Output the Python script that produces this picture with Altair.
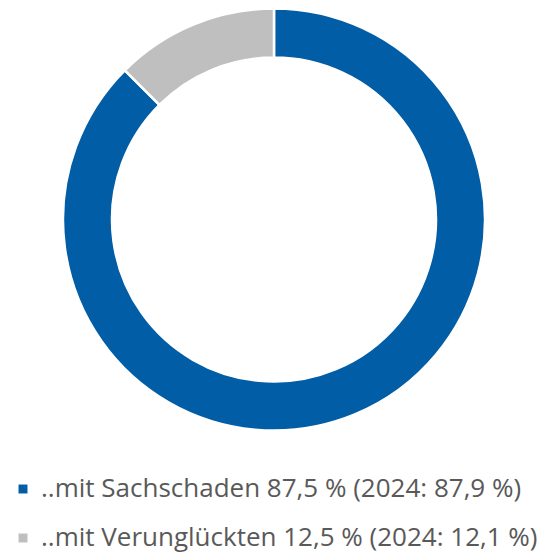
import altair as alt
import pandas as pd

categories = ["..mit Sachschaden 87,5 % (2024: 87,9 %)", "..mit Verunglückten 12,5 % (2024: 12,1 %)"]
values = [87.5, 12.5]
colors = ["#005DA6", "#BFBFBF"]

df = pd.DataFrame({"cat": categories, "val": values, "ord": [0, 1]})

chart = alt.Chart(df).mark_arc(
    outerRadius=211, innerRadius=162, stroke="white", strokeWidth=2.5
).encode(
    theta=alt.Theta("val:Q", stack=True),
    order=alt.Order("ord:Q"),
    color=alt.Color(
        "cat:N",
        sort=categories,
        scale=alt.Scale(domain=categories, range=colors),
        legend=alt.Legend(
            title=None,
            orient="none",
            legendX=2,
            legendY=468,
            symbolType="square",
            symbolSize=80,
            symbolStrokeWidth=0,
            labelFont="Open Sans",
            labelFontSize=26,
            labelColor="#595959",
            labelLimit=700,
            rowPadding=23,
            labelOffset=5,
        ),
    ),
).properties(
    width=532, height=423, autosize=alt.AutoSizeParams(type="none"),
    padding={"left": 0, "top": 0, "right": 0, "bottom": 123}
).configure_view(stroke=None)

chart.save("out.html", embed_options={"renderer": "svg", "actions": False})
